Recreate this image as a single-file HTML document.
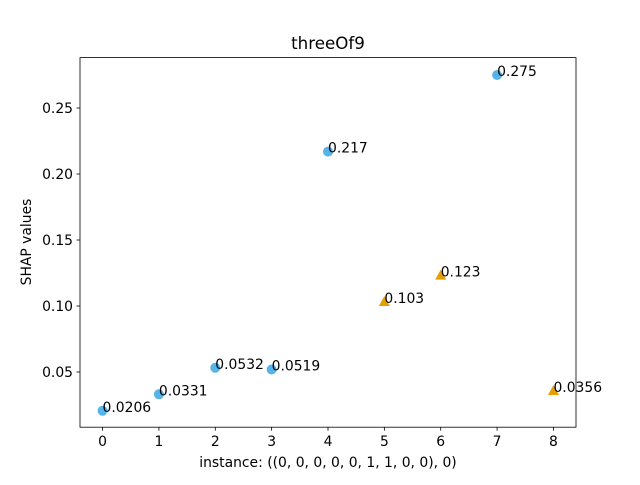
<!DOCTYPE html>
<html><head><meta charset="utf-8"><style>
body{margin:0;background:#fff;}
svg text{font-family:"DejaVu Sans","Liberation Sans",sans-serif;fill:#000;}
</style></head><body>
<svg id="chart" width="640" height="480" xmlns="http://www.w3.org/2000/svg">
<rect width="640" height="480" fill="#fff"/>
<text x="328" y="49" font-size="16.7" text-anchor="middle">threeOf9</text>
<g id="plot"></g>
<rect x="80" y="57.6" width="496" height="369.6" fill="none" stroke="#000" stroke-width="0.8"/>
<text x="328" y="467" font-size="13.9" text-anchor="middle">instance: ((0, 0, 0, 0, 0, 1, 1, 0, 0), 0)</text>
<text x="0" y="0" font-size="13.9" text-anchor="middle" transform="translate(31,242) rotate(-90)">SHAP values</text>
</svg>
<script>
const categories=[0,1,2,3,4,5,6,7,8];
const shapValues=[0.0206,0.0331,0.0532,0.0519,0.217,0.103,0.123,0.275,0.0356];
const valueLabels=["0.0206","0.0331","0.0532","0.0519","0.217","0.103","0.123","0.275","0.0356"];
const markerKinds=["c","c","c","c","c","t","t","c","t"];
const xTicks=[0,1,2,3,4,5,6,7,8];
const yTicks=[0.05,0.10,0.15,0.20,0.25];
const yTickLabels=["0.05","0.10","0.15","0.20","0.25"];
const L=80,R=576,T=57.6,B=427.2,xmin=-0.4,xmax=8.4,ymin=0.00818,ymax=0.2882;
const xs=v=>L+(v-xmin)/(xmax-xmin)*(R-L);
const ys=v=>B-(v-ymin)/(ymax-ymin)*(B-T);
const g=document.getElementById('plot');
const NS='http://www.w3.org/2000/svg';
function mk(t,a){const e=document.createElementNS(NS,t);for(const k in a)e.setAttribute(k,a[k]);g.appendChild(e);return e;}
xTicks.forEach(v=>{
 const l=mk('line',{x1:xs(v),x2:xs(v),y1:B,y2:B+3.5,stroke:'#000','stroke-width':0.8});
 
 
 const t=mk('text',{x:xs(v),y:B+19,'font-size':13.9,'text-anchor':'middle'});t.textContent=v;
 
 
});
yTicks.forEach((v,i)=>{
 const l=mk('line',{x1:L-3.5,x2:L,y1:ys(v),y2:ys(v),stroke:'#000','stroke-width':0.8});
 
 
 const t=mk('text',{x:L-7,y:ys(v)+5,'font-size':13.9,'text-anchor':'end'});t.textContent=yTickLabels[i];
 
 
});
categories.forEach((c,i)=>{
 const x=xs(c),y=ys(shapValues[i]);let m;
 if(markerKinds[i]==='c'){m=mk('circle',{cx:x,cy:y,r:5,fill:'#56B4E9'});}
 else{m=mk('polygon',{points:`${x},${y-6} ${x-5.5},${y+4} ${x+5.5},${y+4}`,fill:'#E69F00'});}
 
 
 const t=mk('text',{x:x,y:y+1,'font-size':13.9});t.textContent=valueLabels[i];
 
 
});
</script>
</body></html>
